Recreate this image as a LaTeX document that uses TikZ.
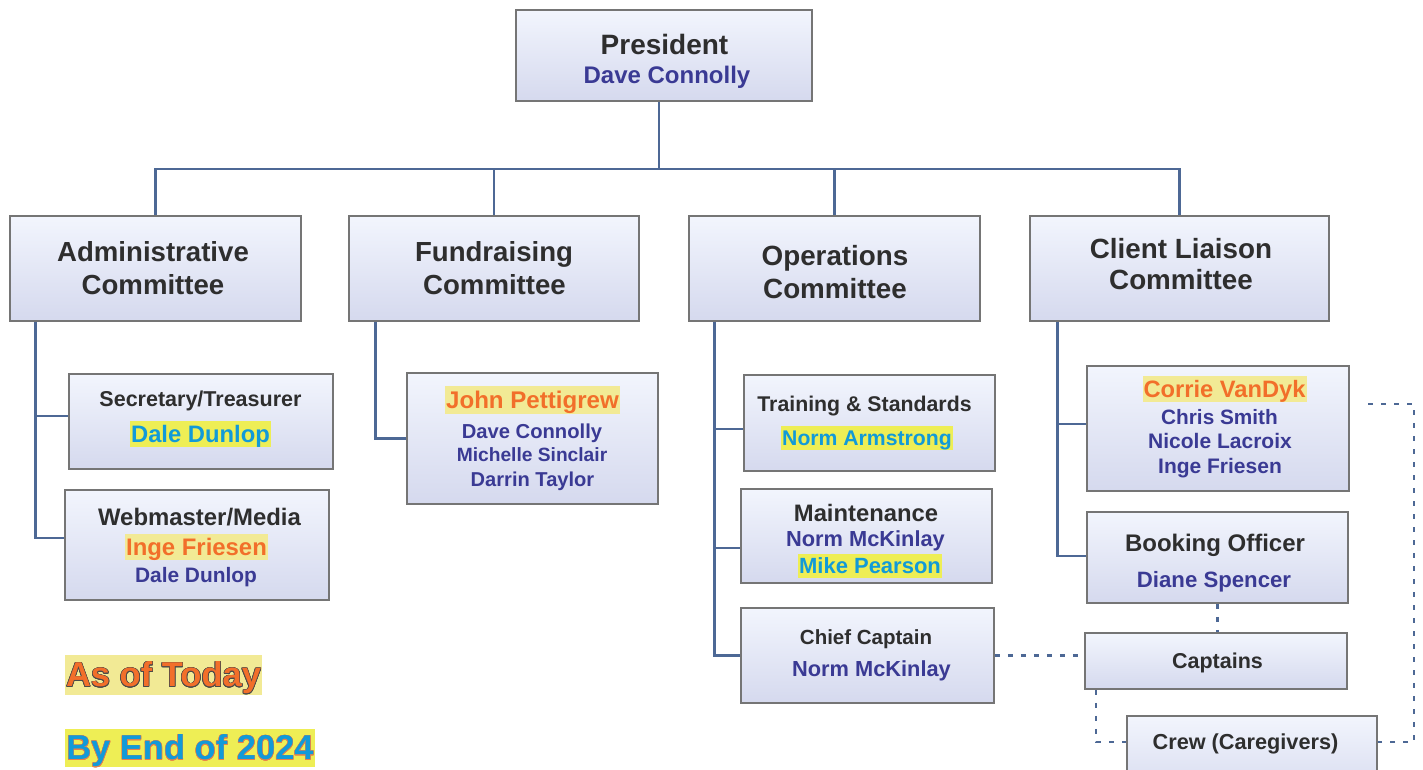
\documentclass[tikz,border=0pt]{standalone}
\usepackage{fontspec}
\setmainfont{Liberation Sans}
\usepackage[copies]{contour}
\definecolor{boxline}{HTML}{757575}
\definecolor{boxtop}{HTML}{F2F5FD}
\definecolor{boxbot}{HTML}{D5D9EE}
\definecolor{connc}{HTML}{4D6895}
\definecolor{ttl}{HTML}{2E2E2E}
\definecolor{navy}{HTML}{3A3A94}
\definecolor{orng}{HTML}{F26F2A}
\definecolor{blu}{HTML}{129AD8}
\definecolor{hlpale}{HTML}{F2EA95}
\definecolor{hlbright}{HTML}{EEEE55}
\definecolor{outl}{HTML}{4A4A4A}
\definecolor{outo}{HTML}{E8804A}
\newcommand\fsz[1]{\fontsize{#1}{#1}\selectfont}
\newcommand\lab[2]{\fsz{#1}\rule[-0.19em]{0pt}{1.1em}#2}
\newcommand\bx[5]{\node[box, minimum width=#4pt, minimum height=#5pt] (#1) at (#2,#3) {};}
\tikzset{
  box/.style={draw=boxline, line width=1.6pt, top color=boxtop, bottom color=boxbot, inner sep=0pt},
  lbl/.style={inner sep=0pt, font=\bfseries},
  hlp/.style={lbl, fill=hlpale, inner xsep=1pt},
  hlb/.style={lbl, fill=hlbright, inner xsep=1pt},
  conn/.style={draw=connc, line width=2.8pt},
  dsh/.style={draw=connc, line width=2.4pt, dash pattern=on 5pt off 8pt},
}
\begin{document}
\begin{tikzpicture}[x=1pt,y=-1pt]
\fill[white] (0,0) rectangle (1423,769);
\useasboundingbox (0,0) rectangle (1423,769);
% boxes
\bx{pres}{664}{55.5}{296}{91}
\bx{adm}{155.5}{268.5}{291}{105}
\bx{fund}{494}{268.5}{290}{105}
\bx{ops}{834.5}{268.5}{291}{105}
\bx{cli}{1179.5}{268.5}{299}{105}
\bx{sec}{201}{421.5}{264}{95}
\bx{web}{197}{545}{264}{110}
\bx{john}{532.5}{438.5}{251}{131}
\bx{trn}{869.5}{423}{251}{96}
\bx{mnt}{866.5}{536}{251}{94}
\bx{chf}{867.5}{655.5}{253}{95}
\bx{cor}{1218}{428.5}{262}{125}
\bx{bok}{1217.5}{557.5}{261}{91}
\bx{cap}{1216}{661}{262}{56}
\bx{crw}{1252}{758}{250}{84}
% solid connectors
\coordinate (bar) at (659,169);
\draw[conn] ([xshift=-5pt]pres.south) -- (bar);
\draw[conn] (adm.north) |- (bar) -| (cli.north);
\draw[conn] (fund.north) -- (fund.north |- bar);
\draw[conn] (ops.north) -- (ops.north |- bar);
\draw[conn] ([xshift=26pt]adm.south west) |- ([yshift=7pt]web.west);
\draw[conn] ([xshift=26pt]adm.south west) |- ([yshift=5.5pt]sec.west);
\draw[conn] ([xshift=27pt]fund.south west) |- (john.west);
\draw[conn] ([xshift=26pt]ops.south west) |- (chf.west);
\draw[conn] ([xshift=26pt]ops.south west) |- ([yshift=-6pt]trn.west);
\draw[conn] ([xshift=26pt]ops.south west) |- ([yshift=-12pt]mnt.west);
\draw[conn] ([xshift=28pt]cli.south west) |- ([yshift=1.5pt]bok.west);
\draw[conn] ([xshift=28pt]cli.south west) |- ([yshift=4.5pt]cor.west);
% dashed connectors
\draw[dsh] (chf.east) -- (chf.east -| cap.west);
\draw[dsh] (bok.south) -- (bok.south |- cap.north);
\draw[dsh] ([xshift=12pt]cap.south west) |- ([yshift=16pt]crw.west);
\coordinate (c1) at (1368,404);
\coordinate (c2) at (1414,742);
\draw[dsh] (c1) -| (c2) -- ([yshift=16pt]crw.east);
% labels
\node[lbl, text=ttl] (pres1) at (664.5,44) {\lab{28}{President}};
\node[lbl, text=navy] (pres2) at (667,75) {\lab{24}{Dave Connolly}};
\node[lbl, text=ttl] (adm1) at (153,252) {\lab{27.6}{Administrative}};
\node[lbl, text=ttl] (adm2) at (153,285) {\lab{27.6}{Committee}};
\node[lbl, text=ttl] (fund1) at (494,252) {\lab{27.6}{Fundraising}};
\node[lbl, text=ttl] (fund2) at (494.5,285) {\lab{27.6}{Committee}};
\node[lbl, text=ttl] (ops1) at (835,256) {\lab{27.8}{Operations}};
\node[lbl, text=ttl] (ops2) at (835,288) {\lab{27.8}{Committee}};
\node[lbl, text=ttl] (cli1) at (1181,248) {\lab{27.8}{Client Liaison}};
\node[lbl, text=ttl] (cli2) at (1181,279) {\lab{27.8}{Committee}};
\node[lbl, text=ttl] (sec1) at (200.5,399) {\lab{21.5}{Secretary/Treasurer}};
\node[hlb, text=blu] (sec2) at (200.5,434) {\lab{23.8}{Dale Dunlop}};
\node[lbl, text=ttl] (web1) at (199.5,517) {\lab{23.9}{Webmaster/Media}};
\node[hlp, text=orng] (web2) at (196.5,547) {\lab{23.9}{Inge Friesen}};
\node[lbl, text=navy] (web3) at (196,575) {\lab{20.9}{Dale Dunlop}};
\node[hlp, text=orng] (john1) at (532.5,400) {\lab{24.1}{John Pettigrew}};
\node[lbl, text=navy] (john2) at (532,431) {\lab{20.2}{Dave Connolly}};
\node[lbl, text=navy] (john3) at (532,455) {\lab{19.2}{Michelle Sinclair}};
\node[lbl, text=navy] (john4) at (532.5,479) {\lab{20.1}{Darrin Taylor}};
\node[lbl, text=ttl] (trn1) at (864.5,404) {\lab{21.3}{Training \& Standards}};
\node[hlb, text=blu] (trn2) at (867,438) {\lab{21.2}{Norm Armstrong}};
\node[lbl, text=ttl] (mnt1) at (866,513) {\lab{23.8}{Maintenance}};
\node[lbl, text=navy] (mnt2) at (865.5,539) {\lab{21.8}{Norm McKinlay}};
\node[hlb, text=blu] (mnt3) at (870,566) {\lab{22}{Mike Pearson}};
\node[lbl, text=ttl] (chf1) at (866,637) {\lab{20.5}{Chief Captain}};
\node[lbl, text=navy] (chf2) at (871.5,669) {\lab{21.8}{Norm McKinlay}};
\node[hlp, text=orng] (cor1) at (1224.5,389) {\lab{23.7}{Corrie VanDyk}};
\node[lbl, text=navy] (cor2) at (1219.5,417) {\lab{20.8}{Chris Smith}};
\node[lbl, text=navy] (cor3) at (1220,441) {\lab{21}{Nicole Lacroix}};
\node[lbl, text=navy] (cor4) at (1220,466) {\lab{21}{Inge Friesen}};
\node[lbl, text=ttl] (bok1) at (1215,543) {\lab{24}{Booking Officer}};
\node[lbl, text=navy] (bok2) at (1214,580) {\lab{22.2}{Diane Spencer}};
\node[lbl, text=ttl] (cap1) at (1217.5,661) {\lab{21.5}{Captains}};
\node[lbl, text=ttl] (crw1) at (1245.5,742) {\lab{21.7}{Crew (Caregivers)}};
% legend
\contourlength{0.6pt}
\node[hlp, inner xsep=1pt] (leg1) at (163.5,675) {\lab{34.5}{\contour{outl}{\textcolor{orng}{As of Today}}}};
\contourlength{0.35pt}
\node[hlb, inner xsep=1pt] (leg2) at (190,748) {\lab{34.5}{\contour{outo}{\textcolor{blu}{By End of 2024}}}};
\end{tikzpicture}
\end{document}
